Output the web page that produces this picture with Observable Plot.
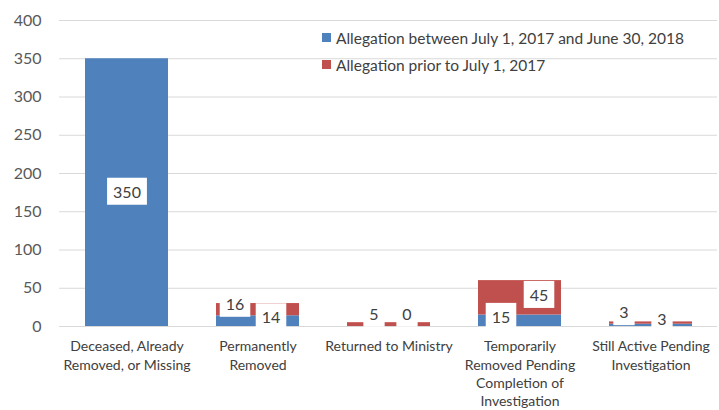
<!DOCTYPE html>
<html><head><meta charset="utf-8">
<script src="https://cdn.jsdelivr.net/npm/d3@7"></script>
<script src="https://cdn.jsdelivr.net/npm/@observablehq/plot@0.6"></script>
<style>
body{margin:0;background:#fff;font-family:Lato,sans-serif;}
#wrap{position:relative;width:719px;height:410px;}
.legend{position:absolute;left:322px;top:24px;font-size:15.5px;color:#404040;font-family:Lato,sans-serif;}
.legend div{display:flex;align-items:center;height:27px;white-space:nowrap;}
.legend .sw{width:9px;height:9px;margin-right:5px;display:inline-block;}
</style></head><body><div id="wrap"></div>
<script>
const categories = ["Deceased, Already\nRemoved, or Missing", "Permanently\nRemoved", "Returned to Ministry", "Temporarily\nRemoved Pending\nCompletion of\nInvestigation", "Still Active Pending\nInvestigation"];
const seriesNames = ["Allegation between July 1, 2017 and June 30, 2018", "Allegation prior to July 1, 2017"];
const currentValues = [350, 14, 0, 15, 3];
const priorValues = [0, 16, 5, 45, 3];
const yTicks = [0, 50, 100, 150, 200, 250, 300, 350, 400];
const colors = ["#4F81BD", "#C0504D"];
// label nudges (pixels); null = no label shown
const currentDx = [0, 13, 18, -19, 11];
const currentDy = [0, -3, -12, -3, -5];
const priorDx = [null, -23, -15, 19, -27];
const priorDy = [null, -5, -10, -2, -10];

const rows = [];
categories.forEach((c, i) => rows.push({cat: c, series: seriesNames[0], value: currentValues[i]}));
categories.forEach((c, i) => rows.push({cat: c, series: seriesNames[1], value: priorValues[i]}));

const labels = [];
categories.forEach((c, i) => {
  if (currentDx[i] !== null) labels.push({cat: c, value: currentValues[i], mid: currentValues[i] / 2, dx: currentDx[i], dy: currentDy[i]});
  if (priorDx[i] !== null) labels.push({cat: c, value: priorValues[i], mid: currentValues[i] + priorValues[i] / 2, dx: priorDx[i], dy: priorDy[i]});
});

const chart = Plot.plot({
  width: 719, height: 410,
  marginLeft: 59, marginRight: 2, marginTop: 20, marginBottom: 84,
  style: {fontFamily: "Lato, sans-serif", color: "#595959", background: "#fff"},
  x: {domain: categories, paddingInner: 0.37, paddingOuter: 0.185},
  y: {domain: [0, 400]},
  color: {domain: seriesNames, range: colors},
  marks: [
    Plot.ruleY(yTicks, {stroke: "#d9d9d9", strokeWidth: 1}),
    Plot.barY(rows, {x: "cat", y: "value", fill: "series"}),
    Plot.axisY({ticks: yTicks, tickSize: 0, tickPadding: 18, fontSize: 16, label: null, fill: "#595959"}),
    Plot.axisX({tickSize: 0, tickPadding: 12, fontSize: 14, lineHeight: 1.3, label: null, fill: "#404040"}),
    ...labels.map(l => Plot.text([l], {x: "cat", y: "mid", text: d => String(d.value), dx: l.dx, dy: l.dy, fontSize: 16, fill: "#404040", className: "lbl"}))
  ]
});
const wrap = document.getElementById("wrap");
wrap.appendChild(chart);

// white boxes behind data labels
chart.querySelectorAll("g.lbl text").forEach(t => {
  const b = t.getBBox();
  const r = document.createElementNS("http://www.w3.org/2000/svg", "rect");
  r.setAttribute("x", b.x - 6); r.setAttribute("y", b.y - 4);
  r.setAttribute("width", b.width + 12); r.setAttribute("height", b.height + 8);
  r.setAttribute("fill", "#fff");
  if (t.getAttribute("transform")) r.setAttribute("transform", t.getAttribute("transform"));
  t.parentNode.insertBefore(r, t);
});

const leg = document.createElement("div");
leg.className = "legend";
seriesNames.forEach((s, i) => {
  const d = document.createElement("div");
  const sw = document.createElement("span");
  sw.className = "sw"; sw.style.background = colors[i];
  d.appendChild(sw); d.appendChild(document.createTextNode(s));
  leg.appendChild(d);
});
wrap.appendChild(leg);
</script></body></html>
